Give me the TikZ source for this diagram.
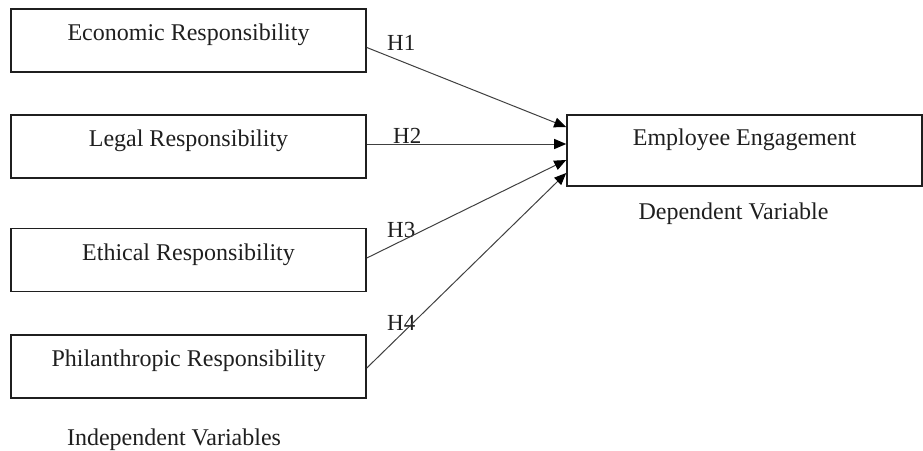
\documentclass[tikz,border=0pt]{standalone}
\usepackage{fontspec}
\setmainfont{Liberation Serif}
\usetikzlibrary{arrows.meta}
\begin{document}
\begin{tikzpicture}[x=1pt,y=-1pt,
  box/.style={draw=black!88,line width=1.6pt,inner sep=0pt,minimum width=355pt,
    text height=31.5pt,text depth=31.5pt,text=black!88,font=\fontsize{24}{28}\selectfont},
  bigbox/.style={box,text height=30pt,text depth=41pt},
  lab/.style={inner sep=0pt,anchor=base west,text=black!88,font=\fontsize{23}{27}\selectfont},
  captext/.style={inner sep=0pt,anchor=base,text=black!88,font=\fontsize{24}{28}\selectfont},
  conn/.style={draw=black!75,line width=1pt,-{Triangle[length=12pt,width=10pt,color=black]}}]
\useasboundingbox (0,0) rectangle (923,450);
\node[box] (e1) at (188.5,40.5) {Economic Responsibility};
\node[box] (e2) at (188.5,146.5) {Legal Responsibility};
\node[box] (e3) at (188.5,260) {Ethical Responsibility};
\node[box] (e4) at (188.5,366.5) {Philanthropic Responsibility};
\node[bigbox] (ee) at (744.5,150.5) {Employee Engagement};
\node[captext] (iv) at (174,445) {Independent Variables};
\node[captext] (dv) at (733.5,219) {Dependent Variable};
\node[lab] (h1) at (387,50) {H1};
\node[lab] (h2) at (393,143) {H2};
\node[lab] (h3) at (387,237) {H3};
\node[lab] (h4) at (387,330) {H4};
\draw[conn] ([yshift=-7pt]e1.east) -- ([yshift=23.5pt]ee.west);
\draw[conn] ([yshift=2.5pt]e2.east) -- ([yshift=6.5pt]ee.west);
\draw[conn] ([yshift=2pt]e3.east) -- ([yshift=-9.5pt]ee.west);
\draw[conn] ([yshift=-1.5pt]e4.east) -- ([yshift=-22.5pt]ee.west);
\end{tikzpicture}
\end{document}
